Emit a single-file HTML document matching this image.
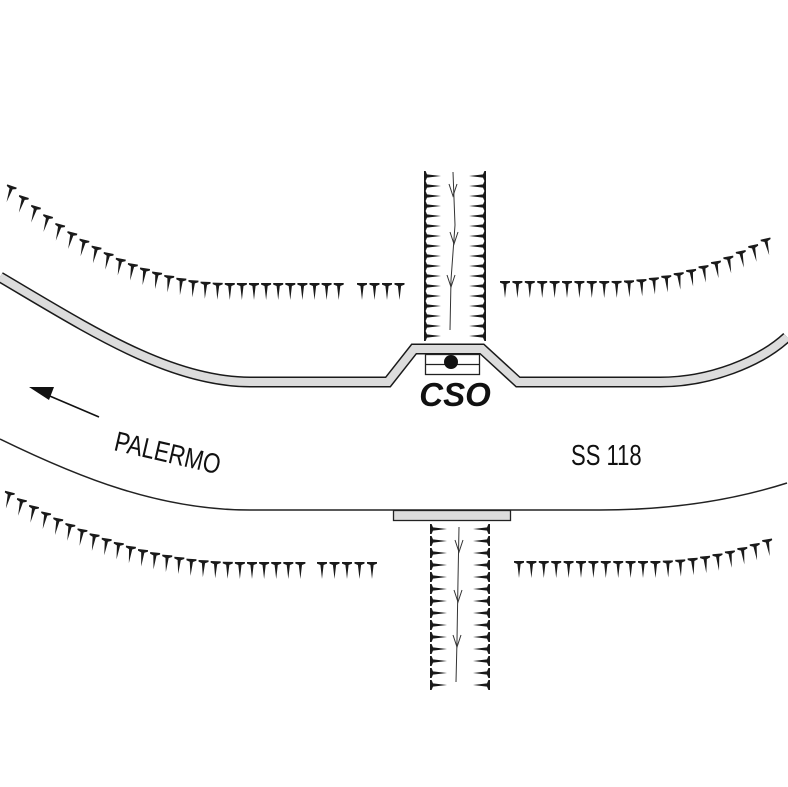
<!DOCTYPE html>
<html><head><meta charset="utf-8"><style>
html,body{margin:0;padding:0;background:#fff;width:788px;height:787px;overflow:hidden}
svg{display:block}
text{font-family:"Liberation Sans",sans-serif}
</style></head><body>
<svg id="s" width="788" height="787" viewBox="0 0 788 787" xmlns="http://www.w3.org/2000/svg">
<g id="ticks" fill="#1a1a1a"></g>
<path d="M0,277 C90,330 170,382 250,382 L388,382 L414,349 L482,349 L518,382 L660,382 C710,382 760,362 787,337" fill="none" stroke="#1a1a1a" stroke-width="11"/>
<path d="M0,277 C90,330 170,382 250,382 L388,382 L414,349 L482,349 L518,382 L660,382 C710,382 760,362 787,337" fill="none" stroke="#dcdcdc" stroke-width="8"/>
<rect x="425.5" y="354.5" width="54" height="20" fill="#fff" stroke="#222" stroke-width="1.3"/>
<line x1="425" y1="364.5" x2="480" y2="364.5" stroke="#222" stroke-width="1.3"/>
<circle cx="451" cy="362" r="7" fill="#111"/>
<text x="455" y="406" font-size="33" font-weight="bold" font-style="italic" text-anchor="middle" fill="#111">CSO</text>
<path d="M0,439 C80,478 160,510 250,510 L600,510 C680,510 740,498 787,483" fill="none" stroke="#222" stroke-width="1.5"/>
<rect x="393.5" y="510.5" width="117" height="10" fill="#dcdcdc" stroke="#222" stroke-width="1.3"/>
<path d="M453,172 L455,225 L451,280 L450,330" fill="none" stroke="#333" stroke-width="1"/>
<path d="M449,184 L453,196 L457,184 M450,232 L454,244 L458,232 M447,275 L451,287 L455,275" fill="none" stroke="#333" stroke-width="1"/>
<path d="M459,527 L458,580 L457,640 L456,682" fill="none" stroke="#333" stroke-width="1"/>
<path d="M455,540 L459,552 L463,540 M454,590 L458,602 L462,590 M453,635 L457,647 L461,635" fill="none" stroke="#333" stroke-width="1"/>
<line x1="99" y1="417" x2="45" y2="394" stroke="#111" stroke-width="1.6"/>
<polygon points="29,387 54,387 49,400" fill="#111"/>
<text transform="translate(113,450) rotate(13) scale(0.8,1)" font-size="28" fill="#111">PALERMO</text>
<text transform="translate(571,465) scale(0.76,1)" font-size="29" fill="#111">SS 118</text>
</svg>
<script>
(function(){
var g=document.getElementById('ticks');var out='';
function tick(x,y,ang){
 out+='<path transform="translate('+x.toFixed(1)+','+y.toFixed(1)+') rotate('+(ang-90).toFixed(1)+')" d="M-5,0 L5,0 L5,1.6 L1.6,3 L0,17 L-1.6,3 L-5,1.6 Z"/>';
}
function curve(f,x0,x1,step,dir){
 for(var x=x0;x<=x1+0.1;x+=step){var y=f(x);var d=(f(x+0.5)-f(x-0.5));var a=Math.atan2(d,1)*180/Math.PI;tick(x,y,90+a*0.45*dir);}
}
var tl=function(x){return x<230?283-97*Math.pow((230-x)/218,2):283;};
curve(tl,12,340,12.1,1);curve(tl,362,400,12.5,1);
var tr=function(x){return x<610?281:281-49*Math.pow((x-610)/167,2);};
curve(tr,505,777,12.4,1);
var bl=function(x){return x<240?562-70*Math.pow((240-x)/230,2):562;};
curve(bl,10,302,12.1,1);curve(bl,322,372,12.5,1);
var br=function(x){return x<650?561:561-26*Math.pow((x-650)/128,2);};
curve(br,519,778,12.4,1);
for(var y=176;y<=336;y+=10){tick(424,y,0);tick(486,y,180);}
for(var y=529;y<=692;y+=12){tick(430,y,0);tick(490,y,180);}
g.innerHTML=out;
})();
</script>
</body></html>
